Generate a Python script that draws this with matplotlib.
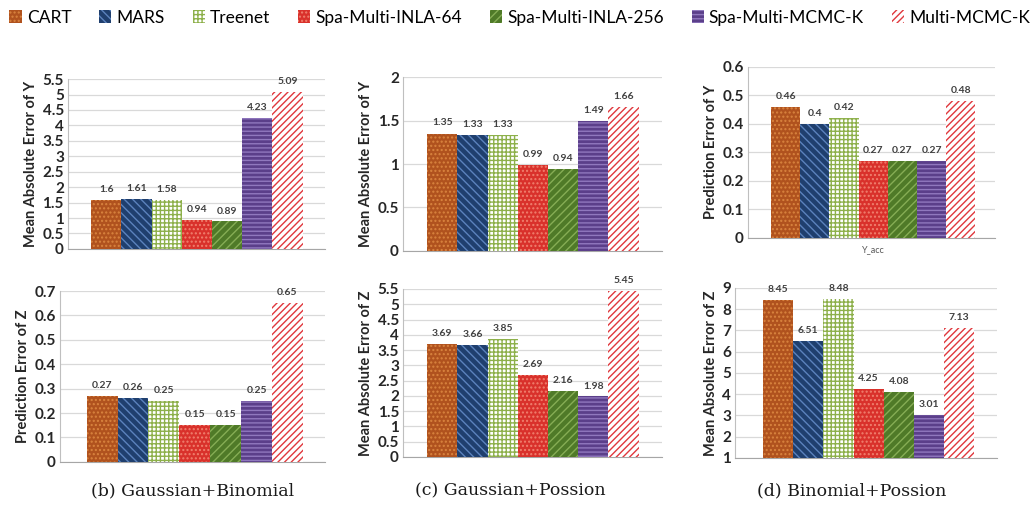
import numpy as np
import matplotlib
matplotlib.use("Agg")
import matplotlib.pyplot as plt
from matplotlib.patches import Patch

plt.rcParams['font.family'] = ['Lato', 'DejaVu Sans']
plt.rcParams['hatch.linewidth'] = 1.0

methods = ['CART', 'MARS', 'Treenet', 'Spa-Multi-INLA-64', 'Spa-Multi-INLA-256',
           'Spa-Multi-MCMC-K', 'Multi-MCMC-K']

# values per panel
gb_y = [1.6, 1.61, 1.58, 0.94, 0.89, 4.23, 5.09]
gp_y = [1.35, 1.33, 1.33, 0.99, 0.94, 1.49, 1.66]
bp_y = [0.46, 0.4, 0.42, 0.27, 0.27, 0.27, 0.48]
gb_z = [0.27, 0.26, 0.25, 0.15, 0.15, 0.25, 0.65]
gp_z = [3.69, 3.66, 3.85, 2.69, 2.16, 1.98, 5.45]
bp_z = [8.45, 6.51, 8.48, 4.25, 4.08, 3.01, 7.13]

ylabels = ['Mean Absolute Error of Y', 'Mean Absolute Error of Y', 'Prediction Error of Y',
           'Prediction Error of Z', 'Mean Absolute Error of Z', 'Mean Absolute Error of Z']
captions = ['(b) Gaussian+Binomial', '(c) Gaussian+Possion', '(d) Binomial+Possion']

# face colour, hatch colour, hatch pattern
styles = [
    ('#B0521E', '#D9843F', '....'),
    ('#1F3F6E', '#5B82BD', '\\\\\\\\'),
    ('#FFFFFF', '#8DB04A', '++++'),
    ('#D9312B', '#F0806E', '....'),
    ('#4F7A28', '#86AD55', '////'),
    ('#5B3F8A', '#9078BE', '----'),
    ('#FFFFFF', '#E0383D', '/////'),
]

panels = [
    dict(vals=gb_y, pos=[0.066, 0.509, 0.249, 0.335], ylim=(0, 5.5), step=0.5, xm=(0.76, 0.73)),
    dict(vals=gp_y, pos=[0.391, 0.505, 0.251, 0.343], ylim=(0, 2), step=0.5, xm=(0.8, 0.77)),
    dict(vals=bp_y, pos=[0.7255, 0.531, 0.240, 0.337], ylim=(0, 0.6), step=0.1, xm=(0.79, 0.69)),
    dict(vals=gb_z, pos=[0.058, 0.089, 0.257, 0.337], ylim=(0, 0.7), step=0.1, xm=(0.87, 0.71)),
    dict(vals=gp_z, pos=[0.391, 0.099, 0.251, 0.331], ylim=(0, 5.5), step=0.5, xm=(0.8, 0.77)),
    dict(vals=bp_z, pos=[0.713, 0.097, 0.254, 0.335], ylim=(1, 9), step=1, xm=(0.93, 0.76)),
]

fig = plt.figure(figsize=(10.31, 5.07), dpi=100)
x = np.arange(len(methods))

for i, p in enumerate(panels):
    ax = fig.add_axes(p['pos'])
    lo, hi = p['ylim']
    for j, v in enumerate(p['vals']):
        fc, hc, h = styles[j]
        ax.bar(x[j], v, width=1.0, color=fc, edgecolor=hc, hatch=h, linewidth=0, zorder=3)
        ax.text(x[j], v + (hi - lo) * 0.035, '{:g}'.format(v), ha='center', va='bottom',
                fontsize=7.5, color='#404040', fontweight='bold', zorder=4)
    ax.set_ylim(lo, hi)
    ax.set_yticks(np.arange(lo, hi + p['step'] / 2, p['step']))
    ax.set_yticklabels(['{:g}'.format(t) for t in ax.get_yticks()], fontsize=11, fontweight='bold')
    ax.set_xlim(-0.5 - p['xm'][0], 6.5 + p['xm'][1])
    ax.set_xticks([])
    ax.grid(axis='y', color='#D9D9D9', linewidth=0.9, zorder=0)
    ax.set_axisbelow(True)
    for s in ['top', 'right']:
        ax.spines[s].set_visible(False)
    ax.spines['left'].set_color('#BFBFBF')
    ax.spines['bottom'].set_color('#A6A6A6')
    ax.tick_params(axis='y', length=0, pad=3, colors='#262626')
    ax.set_ylabel(ylabels[i], fontsize=10.5, fontweight='bold', color='#262626', labelpad=3)
    if i == 2:
        ax.set_xticks([3])
        ax.set_xticklabels(['Y_acc'], fontsize=6.5, color='#595959')
        ax.tick_params(axis='x', length=0, pad=5)

# captions under bottom row
for cx, cap in zip([0.187, 0.495, 0.826], captions):
    fig.text(cx, 0.032, cap, ha='center', va='center', fontsize=12.5,
             family=['DejaVu Serif'], color='#1a1a1a')

handles = [Patch(facecolor=fc, edgecolor=hc, hatch=h, linewidth=0) for fc, hc, h in styles]
fig.legend(handles, methods, loc='upper left', bbox_to_anchor=(-0.006, 1.012), ncol=7,
           frameon=False, fontsize=12.5, handlelength=0.7, handleheight=0.7,
           handletextpad=0.3, columnspacing=1.6)

fig.savefig('out.png', dpi=100)
